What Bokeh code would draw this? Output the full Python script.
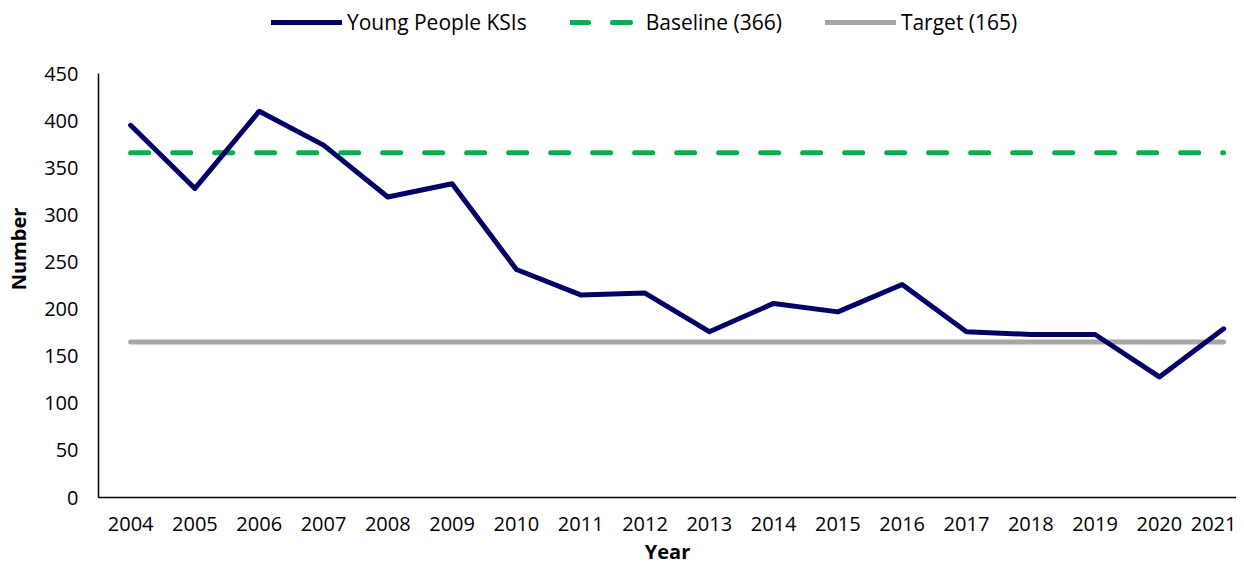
from bokeh.plotting import figure
from bokeh.models import Range1d, FixedTicker, Legend, LegendItem
from bokeh.embed import file_html
from bokeh.resources import INLINE

years = list(range(2004, 2022))
ksis = [395, 328, 410, 374, 319, 333, 242, 215, 217, 176, 206, 197, 226, 176, 173, 173, 128, 179]
baseline_value = 366
target_value = 165
baseline = [baseline_value] * len(years)
target = [target_value] * len(years)
year_labels = [str(y) for y in years]
y_ticks = list(range(0, 451, 50))

FONT = "Open Sans"

# frame spans from the top of the canvas so the legend can sit inside it;
# the y axis line is bounded to 0..450
p = figure(width=1236, height=568, output_backend="svg", toolbar_location=None,
           x_range=Range1d(2003.5, 2021.2), y_range=Range1d(0, 527.5),
           min_border_left=98, min_border_right=0, min_border_top=0, min_border_bottom=71)
p.outline_line_color = None
p.xgrid.visible = False
p.ygrid.visible = False

r1 = p.line(years, ksis, line_color="#000066", line_width=5, line_join="round", line_cap="round")
r2 = p.line(years, baseline, line_color="#00B050", line_width=5, line_dash="18 24", line_cap="round")
r3 = p.line(years, target, line_color="#A6A6A6", line_width=5, line_cap="round")
p.renderers = [r2, r3, r1]

p.xaxis.ticker = FixedTicker(ticks=years)
p.xaxis.major_label_overrides = {y: s for y, s in zip(years, year_labels)}
p.yaxis.ticker = FixedTicker(ticks=y_ticks)
p.yaxis.bounds = (0, 450)
for ax in (p.xaxis[0], p.yaxis[0]):
    ax.major_tick_line_color = None
    ax.minor_tick_line_color = None
    ax.major_tick_out = 0
    ax.major_tick_in = 0
    ax.minor_tick_out = 0
    ax.minor_tick_in = 0
    ax.axis_line_color = "black"
    ax.axis_line_width = 1.5
    ax.major_label_text_font = FONT
    ax.major_label_text_font_size = "20px"
    ax.major_label_text_color = "black"
    ax.axis_label_text_font = FONT
    ax.axis_label_text_font_size = "20px"
    ax.axis_label_text_font_style = "bold"
    ax.axis_label_text_color = "black"
p.xaxis.axis_label = "Year"
p.yaxis.axis_label = "Number"
p.xaxis.major_label_standoff = 19
p.yaxis.major_label_standoff = 20
p.xaxis.axis_label_standoff = 4
p.yaxis.axis_label_standoff = 9

legend = Legend(items=[
    LegendItem(label="Young People KSIs", renderers=[r1]),
    LegendItem(label="Baseline (366)", renderers=[r2]),
    LegendItem(label="Target (165)", renderers=[r3]),
], orientation="horizontal", location=(173, 461))
legend.glyph_width = 71
legend.glyph_height = 20
legend.spacing = 43
legend.label_standoff = 5
legend.label_text_font = FONT
legend.label_text_font_size = "21px"
legend.label_text_color = "black"
legend.border_line_color = None
legend.background_fill_alpha = 0
legend.padding = 0
legend.margin = 0
p.add_layout(legend, "center")

open("out.html", "w").write(file_html(p, INLINE))
